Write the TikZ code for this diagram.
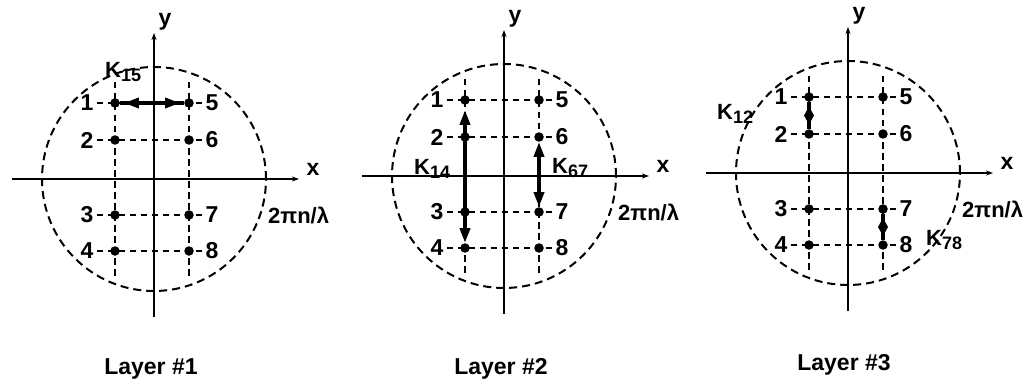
\documentclass[tikz,border=0pt]{standalone}
\usepackage{fontspec}
\setmainfont{Liberation Sans}
\newfontfamily\diagfont{Liberation Sans}
\usetikzlibrary{arrows.meta,decorations.markings}
\newcommand\Klab[1]{K\raisebox{-4pt}{\fontsize{18}{18}\selectfont #1}}
\tikzset{
  dotnode/.style={circle,fill=black,inner sep=0pt,minimum size=9.5pt},
  numlabel/.style={font=\diagfont\bfseries\fontsize{23}{23}\selectfont,inner sep=3pt},
  axlabel/.style={font=\diagfont\bfseries\fontsize{23}{23}\selectfont,inner sep=0pt},
  wavelabel/.style={font=\diagfont\bfseries\fontsize{22}{22}\selectfont,inner sep=0pt,anchor=west},
  klabel/.style={font=\diagfont\bfseries\fontsize{22}{22}\selectfont,inner sep=0pt,anchor=base west},
  layerlabel/.style={font=\diagfont\bfseries\fontsize{23}{23}\selectfont,inner sep=0pt,anchor=base},
  gridline/.style={line width=2pt,dash pattern=on 6.5pt off 4.5pt},
  ring/.style={line width=2pt,dash pattern=on 8pt off 5pt},
  axisline/.style={line width=2.6pt,-{Stealth[length=7pt,width=5pt]}},
  coupling/.style={line width=3.6pt},
  twohead/.style={line width=3.6pt,{Triangle[length=15pt,width=10pt]}-{Triangle[length=15pt,width=10pt]}},
  spindle/.style={line width=3.6pt, postaction=decorate, decoration={markings,
     mark=at position 0.5 with {\fill (-9pt,0pt) -- (0pt,5pt) -- (9pt,0pt) -- (0pt,-5pt) -- cycle;}}},
}
\newcommand\layerpanel[3]{%
\begin{scope}[shift={(#2,#3)}]
 \draw[ring] (0,0) circle[radius=112pt];
 \coordinate (#1xa) at (-142,0); \coordinate (#1xb) at (145,0);
 \coordinate (#1ya) at (0,138); \coordinate (#1yb) at (0,-146);
 \draw[axisline] (#1xa) -- (#1xb);
 \draw[axisline] (#1ya) -- (#1yb);
 \node[axlabel] (#1x) at (159,-10) {x};
 \node[axlabel] (#1y) at (11,-157) {y};
 \node[wavelabel] (#1w) at (114,36) {2πn/λ};
 \foreach \i/\yy in {1/-76,2/-39,3/36,4/72} {
   \node[dotnode] (#1d\i) at (-39,\yy) {};
   \node[numlabel] (#1n\i) at (-67,\yy) {\i};
 }
 \foreach \i/\yy in {5/-76,6/-39,7/36,8/72} {
   \node[dotnode] (#1d\i) at (35,\yy) {};
   \node[numlabel] (#1n\i) at (58,\yy) {\i};
 }
 \coordinate (#1ta) at (-39,-97); \coordinate (#1ba) at (-39,100);
 \coordinate (#1tb) at (35,-97); \coordinate (#1bb) at (35,100);
 \draw[gridline] (#1ta) -- (#1ba);
 \draw[gridline] (#1tb) -- (#1bb);
 \foreach \i/\j in {1/5,2/6,3/7,4/8} \draw[gridline] (#1n\i) -- (#1n\j);
\end{scope}}
\begin{document}
\begin{tikzpicture}[x=1pt,y=-1pt]
\useasboundingbox (0,0) rectangle (1033,385);
\layerpanel{a}{154}{179}
\layerpanel{b}{504}{176}
\layerpanel{c}{848}{173}
% couplings
\draw[coupling] (ad1) -- (ad5);
\draw[twohead, shorten <=4pt, shorten >=4pt] (ad1) -- (ad5);
\draw[twohead, shorten <=5pt] (bd1) -- (bd4);
\draw[twohead] (bd6) -- (bd7);
\draw[spindle] (cd1) -- (cd2);
\draw[spindle] (cd7) -- (cd8);
% coupling labels
\node[klabel] (k15) at (105,78) {\Klab{15}};
\node[klabel] (k14) at (414,175) {\Klab{14}};
\node[klabel] (k67) at (552,173) {\Klab{67}};
\node[klabel] (k12) at (717,120) {\Klab{12}};
\node[klabel] (k78) at (926,245) {\Klab{78}};
% layer captions
\node[layerlabel] (l1) at (151,374) {Layer \#1};
\node[layerlabel] (l2) at (501,374) {Layer \#2};
\node[layerlabel] (l3) at (844,370) {Layer \#3};
\end{tikzpicture}
\end{document}
